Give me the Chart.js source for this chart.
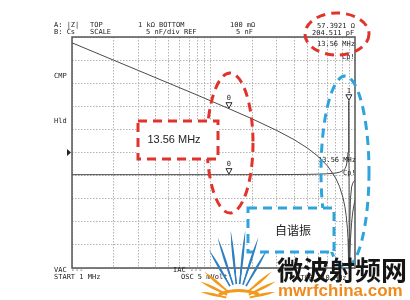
<!DOCTYPE html>
<html>
<head>
<meta charset="utf-8">
<script src="https://cdn.jsdelivr.net/npm/chart.js@4.4.0/dist/chart.umd.min.js"></script>
<style>
  html, body { margin: 0; padding: 0; background: #fff; }
</style>
</head>
<body>
<canvas id="sweep" width="410" height="300"></canvas>
<script>
// Trace A: |Z| (ohm) against frequency (MHz)
const zFreqMHz = [1, 2, 3, 5, 7, 10, 13.56, 20, 30, 40, 50, 60, 70, 80, 85, 90, 93, 95, 97, 98, 99, 99.5, 100, 100.5, 101, 102, 104, 106, 108, 110];
const zOhm = [793, 396, 264, 158, 113, 78.5, 57.4, 38.1, 24.1, 16.7, 11.9, 8.46, 5.78, 3.57, 2.59, 1.67, 1.15, 0.81, 0.48, 0.32, 0.16, 0.08, 0.03, 0.08, 0.16, 0.31, 0.62, 0.93, 1.22, 1.51];

// Trace B: Cs (nF) against frequency (MHz)
const csFreqMHz = [1, 10, 13.56, 20, 30, 40, 50, 60, 70, 80, 85, 90, 93, 95, 97, 98, 99, 99.4, 100.5, 101, 102, 104, 106, 108, 110];
const csNF = [0.201, 0.203, 0.2045, 0.209, 0.221, 0.239, 0.268, 0.314, 0.394, 0.558, 0.723, 1.06, 1.49, 2.06, 3.40, 5.07, 10.1, 16.2, -40, -9.99, -4.97, -2.46, -1.62, -1.21, -0.96];

// grid: log frequency divisions, 10 vertical divisions
const xGridMHz = [1, 2, 3, 4, 5, 6, 7, 8, 9, 10, 20, 30, 40, 50, 60, 70, 80, 90, 100];
const csMin = -20, csMax = 30, csStep = 5;   // REF 5 nF, 5 nF/div
const zMin = 0.1, zMax = 1000;              // BOTTOM 100 mOhm, TOP 1 kOhm

// markers: [label, freq, value, axis]
const markerPts = [
  ['0', 13.56, 57.39, 'yZ'],
  ['0', 13.56, 0.2045, 'yC'],
  ['1', 99.4, 16.2, 'yC']
];

const screenText = [
  ['A: |Z|', 54, 25], ['TOP', 90, 25], ['1 kΩ BOTTOM', 138, 25], ['100 mΩ', 230, 25], ['57.3921 Ω', 317, 26],
  ['B: Cs', 54, 32], ['SCALE', 90, 32], ['5 nF/div REF', 146, 32], ['5 nF', 236, 32], ['204.511 pF', 312, 33],
  ['13.56 MHz', 317, 44], ['Cp!', 342, 57],
  ['CMP', 54, 76], ['Hld', 54, 121],
  ['13.56 MHz', 318, 160], ['Cp!', 343, 173],
  ['VAC ---', 54, 270], ['START 1 MHz', 54, 277],
  ['IAC ---', 173, 270], ['OSC 5 mVolt', 181, 277],
  ['STOP 110 MHz', 296, 278]
];

function dashedEllipse(ctx, cx, cy, rx, ry, color) {
    ctx.save();
    ctx.strokeStyle = color;
    ctx.lineWidth = 3;
    ctx.setLineDash([9, 6]);
    ctx.beginPath();
    ctx.ellipse(cx, cy, rx, ry, 0, 0, Math.PI * 2);
    ctx.stroke();
    ctx.restore();
}

function dashedBox(ctx, x, y, w, h, color) {
    ctx.save();
    ctx.fillStyle = '#fff';
    ctx.fillRect(x, y, w, h);
    ctx.strokeStyle = color;
    ctx.lineWidth = 3;
    ctx.setLineDash([9, 6]);
    ctx.strokeRect(x, y, w, h);
    ctx.restore();
}

// tapered blade from the fan centre
function blade(ctx, cx, cy, deg, r0, r1, w, color) {
    const a = deg * Math.PI / 180;
    const nx = -Math.sin(a), ny = Math.cos(a);
    const x0 = cx + Math.cos(a) * r0, y0 = cy + Math.sin(a) * r0;
    const x1 = cx + Math.cos(a) * r1, y1 = cy + Math.sin(a) * r1;
    ctx.fillStyle = color;
    ctx.beginPath();
    ctx.moveTo(x0 + nx * w * 0.3, y0 + ny * w * 0.3);
    ctx.lineTo(x1, y1);
    ctx.lineTo(x0 - nx * w * 0.3, y0 - ny * w * 0.3);
    ctx.quadraticCurveTo((x0 + x1) / 2 - nx * w, (y0 + y1) / 2 - ny * w, x0 - nx * w * 0.3, y0 - ny * w * 0.3);
    ctx.closePath();
    ctx.fill();
    ctx.beginPath();
    ctx.moveTo(x0, y0);
    ctx.quadraticCurveTo((x0 + x1) / 2 + nx * w * 0.8, (y0 + y1) / 2 + ny * w * 0.8, x1, y1);
    ctx.quadraticCurveTo((x0 + x1) / 2 - nx * w * 0.8, (y0 + y1) / 2 - ny * w * 0.8, x0, y0);
    ctx.fill();
}

function drawLogo(ctx) {
    ctx.save();
    const cx = 238, cy = 300;
    [[-60, 58], [-72, 66], [-84, 70], [-96, 70], [-108, 66], [-120, 58]].forEach(([deg, len]) => {
        blade(ctx, cx, cy, deg, 16, len, 3, '#2f7fc1');
    });
    [[-12, 38], [-26, 42], [-40, 44], [-140, 44], [-154, 42], [-168, 38]].forEach(([deg, len]) => {
        blade(ctx, cx, cy, deg, 12, len, 3.5, '#f39a1e');
    });
    ctx.strokeStyle = '#f39a1e';
    ctx.lineWidth = 3;
    ctx.lineCap = 'round';
    ctx.beginPath();
    ctx.moveTo(220, 294);
    ctx.quadraticCurveTo(238, 287, 258, 294);
    ctx.stroke();
    ctx.restore();
}

const screenOverlay = {
    id: 'screenOverlay',
    afterDraw(chart) {
        const { ctx, chartArea: a, scales } = chart;

        // plot frame
        ctx.save();
        ctx.strokeStyle = '#555';
        ctx.lineWidth = 1.5;
        ctx.strokeRect(a.left, a.top, a.right - a.left, a.bottom - a.top);
        ctx.restore();

        // analyzer text
        ctx.save();
        ctx.fillStyle = '#222';
        ctx.font = '7px "DejaVu Sans Mono"';
        ctx.textBaseline = 'middle';
        screenText.forEach(([t, x, y]) => ctx.fillText(t, x, y));

        // reference level pointer
        ctx.beginPath();
        ctx.moveTo(67, 149);
        ctx.lineTo(71, 152.5);
        ctx.lineTo(67, 156);
        ctx.closePath();
        ctx.fill();

        // markers
        ctx.textAlign = 'center';
        ctx.strokeStyle = '#2a2a2a';
        ctx.lineWidth = 1;
        markerPts.forEach(([lab, f, v, axis]) => {
            const px = scales.x.getPixelForValue(f);
            const py = scales[axis].getPixelForValue(v);
            ctx.beginPath();
            ctx.moveTo(px, py - 0.5);
            ctx.lineTo(px - 3, py - 6);
            ctx.lineTo(px + 3, py - 6);
            ctx.closePath();
            ctx.fillStyle = '#fff';
            ctx.fill();
            ctx.stroke();
            ctx.fillStyle = '#2a2a2a';
            ctx.fillText(lab, px, py - 10);
        });
        ctx.restore();

        // red annotations
        dashedEllipse(ctx, 337, 34, 32, 21, '#e0332b');
        dashedEllipse(ctx, 230, 143, 23, 70, '#e0332b');
        dashedBox(ctx, 138, 121, 80, 38, '#e0332b');

        // blue annotations
        dashedEllipse(ctx, 345, 172, 24, 96, '#2ea3dc');
        dashedBox(ctx, 248, 208, 86, 44, '#2ea3dc');

        ctx.save();
        ctx.fillStyle = '#222';
        ctx.textAlign = 'center';
        ctx.textBaseline = 'middle';
        ctx.font = '11px "Liberation Sans"';
        ctx.fillText('13.56 MHz', 174, 140);
        ctx.font = '12px "Noto Sans CJK SC"';
        ctx.fillText('自谐振', 293, 230);
        ctx.restore();

        // watermark
        drawLogo(ctx);
        ctx.save();
        ctx.textBaseline = 'alphabetic';
        ctx.fillStyle = '#151515';
        ctx.font = 'bold 26px "Noto Sans CJK SC"';
        ctx.fillText('微波射频网', 277, 280);
        ctx.fillStyle = '#f08a1c';
        ctx.font = 'bold 17px "Liberation Sans"';
        ctx.fillText('mwrfchina.com', 278, 296);
        ctx.restore();
    }
};

const gridStyle = { color: '#b4b4b4', lineWidth: 1, drawTicks: false };

new Chart(document.getElementById('sweep'), {
    type: 'line',
    data: {
        datasets: [
            {
                label: '|Z|',
                data: zFreqMHz.map((f, i) => ({ x: f, y: zOhm[i] })),
                yAxisID: 'yZ',
                borderColor: '#4a4a4a',
                borderWidth: 1,
                pointRadius: 0,
                tension: 0
            },
            {
                label: 'Cs',
                data: csFreqMHz.map((f, i) => ({ x: f, y: csNF[i] })),
                yAxisID: 'yC',
                borderColor: '#4a4a4a',
                borderWidth: 1,
                pointRadius: 0,
                tension: 0
            }
        ]
    },
    options: {
        responsive: false,
        animation: false,
        devicePixelRatio: 1,
        layout: { padding: { left: 72, top: 37, right: 55, bottom: 32 } },
        plugins: { legend: { display: false }, tooltip: { enabled: false } },
        scales: {
            x: {
                type: 'logarithmic',
                min: 1,
                max: 110,
                afterBuildTicks: scale => { scale.ticks = xGridMHz.map(v => ({ value: v })); },
                ticks: { display: false },
                grid: gridStyle,
                border: { display: false, dash: [1.5, 1.5] }
            },
            yC: {
                type: 'linear',
                position: 'left',
                min: csMin,
                max: csMax,
                ticks: { display: false, stepSize: csStep },
                grid: gridStyle,
                border: { display: false, dash: [1.5, 1.5] }
            },
            yZ: {
                type: 'logarithmic',
                display: false,
                min: zMin,
                max: zMax
            }
        }
    },
    plugins: [screenOverlay]
});
</script>
</body>
</html>
